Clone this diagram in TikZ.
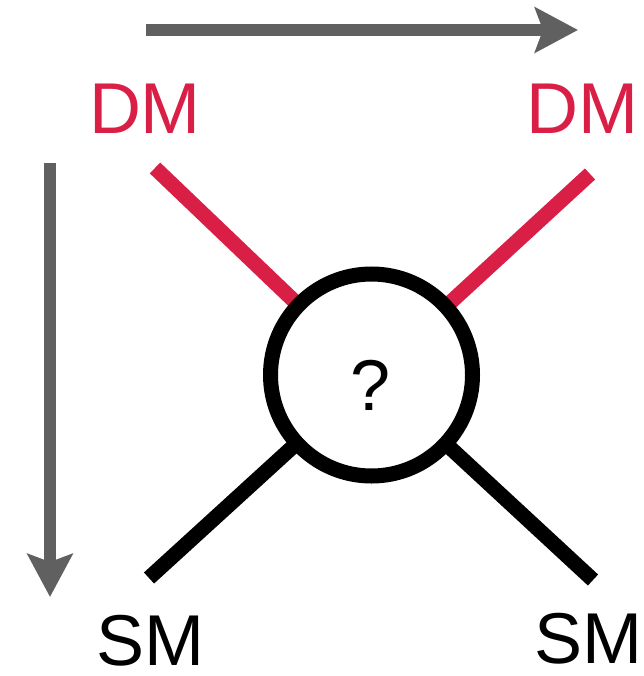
\documentclass[tikz,border=0pt]{standalone}
\usepackage{fontspec}
\setmainfont{Liberation Sans}
\usetikzlibrary{arrows.meta}
\definecolor{DMRed}{RGB}{218,31,71}
\definecolor{FlowGray}{RGB}{96,96,96}

\begin{document}
\begin{tikzpicture}[x=1pt, y=-1pt,
    flow/.style={FlowGray, line width=11.5pt, -{Stealth[length=43pt, width=45pt, inset=8pt]}},
    leg/.style={line width=15pt},
    lbl/.style={font=\fontsize{72}{76}\selectfont, inner sep=0pt}]
    \useasboundingbox (0,0) rectangle (643,676);

    % arrows along the two directions
    \coordinate (hStart) at (146,30);
    \coordinate (hEnd) at (578,30);
    \coordinate (vStart) at (50,163);
    \coordinate (vEnd) at (50,597);
    \draw[flow] (hStart) -- (hEnd);
    \draw[flow] (vStart) -- (vEnd);

    % the four legs
    \coordinate (hub) at (371.5,375);
    \coordinate (legTL) at (155,168);
    \coordinate (legTR) at (590,174);
    \coordinate (legBL) at (149,578);
    \coordinate (legBR) at (593,580);
    \draw[leg, DMRed] (hub) -- (legTL);
    \draw[leg, DMRed] (hub) -- (legTR);
    \draw[leg] (hub) -- (legBL);
    \draw[leg] (hub) -- (legBR);

    % vertex
    \node[circle, draw, fill=white, line width=15pt, minimum size=202pt, inner sep=0pt] (blob) at (hub) {};
    \node[lbl] (query) at (371,385) {?};

    % particle labels
    \node[lbl, DMRed] (dmLeft) at (145,109) {DM};
    \node[lbl, DMRed] (dmRight) at (582,109) {DM};
    \node[lbl] (smLeft) at (150,641) {SM};
    \node[lbl] (smRight) at (588,639) {SM};
\end{tikzpicture}
\end{document}
